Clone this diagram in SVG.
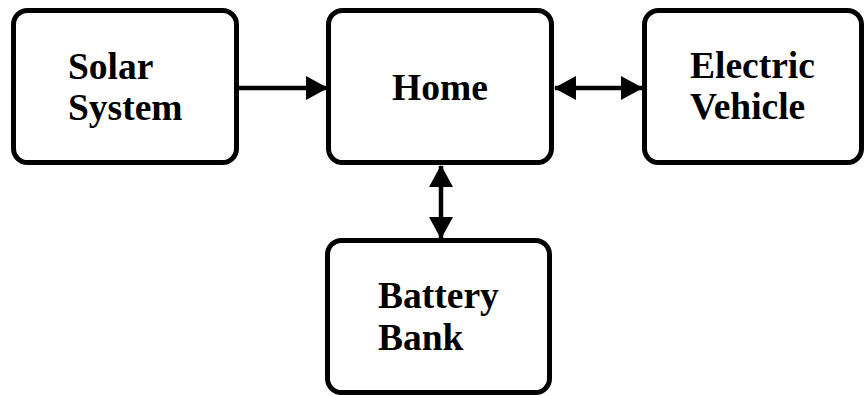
<svg xmlns="http://www.w3.org/2000/svg" width="865" height="396" viewBox="0 0 865 396">
<style>
.box{fill:#fff;stroke:#000;stroke-width:5}
.lbl{font-family:"Liberation Serif","Times New Roman",serif;font-weight:bold;font-size:37.5px;fill:#000}
.conn{stroke:#000;stroke-width:4.5;fill:none}
</style>
<defs>
<marker id="ah" markerUnits="userSpaceOnUse" markerWidth="22" markerHeight="24" refX="21" refY="12" orient="auto-start-reverse" viewBox="0 0 22 24">
<path d="M0,0 L22,12 L0,24 z" fill="#000"/>
</marker>
</defs>
<rect width="865" height="396" fill="#fff"/>
<g id="connectors">
<line class="conn" x1="239" y1="88" x2="327" y2="88" marker-end="url(#ah)"/>
<line class="conn" x1="555" y1="88" x2="642" y2="88" marker-start="url(#ah)" marker-end="url(#ah)"/>
<line class="conn" x1="441" y1="166" x2="441" y2="238" marker-start="url(#ah)" marker-end="url(#ah)"/>
</g>
<g id="solar">
<rect class="box" x="13.5" y="10.5" width="223" height="152" rx="14"/>
<text class="lbl" x="68" y="79">Solar</text>
<text class="lbl" x="68" y="120">System</text>
</g>
<g id="home">
<rect class="box" x="328.5" y="10.5" width="223" height="152" rx="14"/>
<text class="lbl" x="392" y="100">Home</text>
</g>
<g id="ev">
<rect class="box" x="644.5" y="10.5" width="217" height="152" rx="14"/>
<text class="lbl" x="690" y="78">Electric</text>
<text class="lbl" x="690" y="119">Vehicle</text>
</g>
<g id="battery">
<rect class="box" x="327.5" y="240.5" width="222" height="152" rx="14"/>
<text class="lbl" x="378" y="308">Battery</text>
<text class="lbl" x="378" y="350">Bank</text>
</g>
</svg>
